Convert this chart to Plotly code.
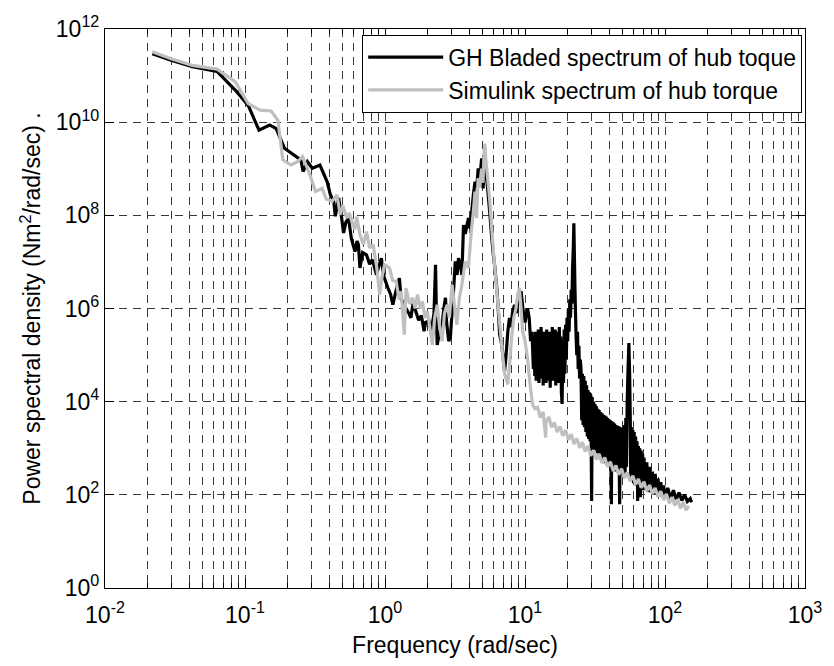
import numpy as np
import plotly.graph_objects as go

# ---- data (log10 of frequency [rad/s], log10 of PSD) ----
gh_log_freq = [
    -1.662, -1.528, -1.376, -1.20, -1.07, -0.977, -0.90, -0.824, -0.777, -0.718,
    -0.601, -0.585, -0.554, -0.519, -0.465, -0.413, -0.39, -0.366, -0.355, -0.331,
    -0.31, -0.296, -0.28, -0.261, -0.24, -0.214, -0.200, -0.190, -0.179, -0.16,
    -0.132, -0.11, -0.09, -0.061, -0.045, -0.026, -0.01, 0.021, 0.04, 0.056,
    0.08, 0.103, 0.115, 0.127, 0.15, 0.17, 0.185, 0.20, 0.22, 0.24,
    0.26, 0.279, 0.29, 0.314, 0.33, 0.35, 0.361, 0.367, 0.373, 0.39,
    0.408, 0.42, 0.432, 0.44, 0.455, 0.467, 0.479, 0.49, 0.502, 0.515,
    0.525, 0.54, 0.549, 0.561, 0.573, 0.596, 0.608, 0.62, 0.631, 0.643,
    0.655, 0.666, 0.678, 0.690, 0.701, 0.707, 0.713, 0.72, 0.737, 0.75,
    0.76, 0.772, 0.784, 0.80, 0.807, 0.819, 0.835, 0.854, 0.865, 0.877,
    0.889, 0.90, 0.91, 0.925, 0.94, 0.95, 0.972, 0.985, 1.00, 1.018,
    1.030, 1.04, 1.05,
    1.060, 1.065, 1.070, 1.075, 1.080, 1.085, 1.090, 1.095, 1.100, 1.105,
    1.110, 1.115, 1.120, 1.125, 1.130, 1.135, 1.140, 1.145, 1.150, 1.155,
    1.160, 1.165, 1.170, 1.175, 1.180, 1.185, 1.190, 1.195, 1.200, 1.205,
    1.210, 1.215, 1.220, 1.225, 1.230, 1.235, 1.240, 1.245, 1.250, 1.255,
    1.260, 1.265, 1.270, 1.275, 1.280, 1.285, 1.290, 1.295,
    1.300, 1.305, 1.310, 1.315, 1.320, 1.325, 1.330, 1.335, 1.340, 1.345,
    1.349, 1.353, 1.357, 1.360, 1.365, 1.370, 1.375, 1.380, 1.385, 1.390, 1.395,
    1.400, 1.405, 1.410, 1.415, 1.420, 1.425, 1.430, 1.435, 1.440, 1.445,
    1.450, 1.455, 1.460, 1.465, 1.470, 1.476, 1.480, 1.485, 1.490, 1.495,
    1.500, 1.505, 1.510, 1.515, 1.520, 1.525, 1.530, 1.535, 1.540, 1.545,
    1.550, 1.555, 1.560, 1.565, 1.570, 1.575, 1.580, 1.585, 1.590, 1.595,
    1.600, 1.605, 1.610, 1.617, 1.620, 1.625, 1.630, 1.635, 1.640, 1.645,
    1.650, 1.655, 1.660, 1.665, 1.670, 1.676, 1.680, 1.685, 1.690, 1.695,
    1.700, 1.705, 1.710, 1.715, 1.720, 1.725, 1.730, 1.735, 1.742, 1.748,
    1.752, 1.755, 1.760, 1.765, 1.770, 1.775, 1.780, 1.785, 1.790, 1.795,
    1.800, 1.805, 1.810, 1.815, 1.820, 1.825, 1.830, 1.835, 1.840, 1.845,
    1.850, 1.860, 1.870, 1.880, 1.890, 1.900, 1.910, 1.920, 1.930, 1.940,
    1.950, 1.960, 1.970, 1.980, 1.990, 2.000, 2.020, 2.040, 2.060, 2.080,
    2.100, 2.120, 2.140, 2.160, 2.180, 2.190,
]
gh_log_psd = [
    11.47, 11.33, 11.19, 11.09, 10.69, 10.36, 9.83, 9.94, 9.86, 9.44,
    9.19, 8.94, 9.15, 9.01, 9.08, 8.72, 8.44, 8.30, 7.98, 8.37,
    7.95, 7.62, 7.85, 7.94, 7.50, 7.22, 7.45, 7.37, 6.87, 7.20,
    7.15, 6.95, 7.05, 6.72, 6.90, 7.08, 6.70, 6.44, 6.30, 6.08,
    6.40, 6.65, 6.20, 6.15, 6.00, 5.90, 5.80, 6.10, 5.94, 5.75,
    5.85, 5.51, 5.70, 5.73, 5.50, 5.90, 6.94, 5.90, 5.22, 5.50,
    5.65, 6.00, 6.23, 5.70, 5.30, 5.37, 5.94, 6.40, 7.01, 6.72,
    7.08, 6.90, 6.72, 7.79, 7.60, 7.94, 7.72, 8.10, 8.44, 8.72,
    8.60, 9.01, 8.80, 9.22, 8.58, 9.00, 9.30, 9.00, 8.44, 8.00,
    7.60, 7.20, 6.90, 6.40, 6.08, 5.44, 5.20, 4.65, 5.00, 5.50,
    5.80, 5.60, 5.90, 6.08, 5.90, 6.20, 6.37, 6.00, 5.70, 6.00,
    5.80, 5.30, 5.50,
    4.70, 5.35, 4.55, 5.50, 4.45, 5.40, 4.60, 5.55, 4.40, 5.45,
    4.65, 5.60, 4.50, 5.40, 4.35, 5.50, 4.55, 5.45, 4.40, 5.55,
    4.60, 5.35, 4.45, 5.50, 4.30, 5.45, 4.55, 5.60, 4.45, 5.40,
    4.60, 5.55, 4.35, 5.45, 4.50, 5.50, 4.40, 5.60, 4.55, 5.40,
    4.20, 3.95, 5.30, 4.40, 5.55, 4.60, 5.65, 4.90,
    5.80, 5.30, 6.00, 5.50, 6.20, 5.80, 6.40, 6.10, 6.90, 7.30,
    7.83, 7.10, 6.40, 6.00, 5.40, 5.00, 5.50, 4.70, 5.20, 4.50, 4.90,
    4.70, 3.60, 4.60, 3.50, 4.55, 3.45, 4.45, 3.35, 4.35, 3.25,
    4.25, 3.20, 4.20, 3.15, 4.15, 1.87, 4.10, 3.05, 4.00, 2.95,
    3.95, 2.95, 3.90, 2.90, 3.85, 2.85, 3.82, 2.80, 3.78, 2.75,
    3.75, 2.75, 3.72, 2.70, 3.70, 2.68, 3.68, 2.65, 3.65, 2.62,
    3.62, 2.60, 3.60, 1.80, 3.58, 2.55, 3.56, 2.55, 3.53, 2.50,
    3.50, 2.50, 3.48, 2.48, 3.47, 1.80, 3.45, 2.45, 3.45, 2.42,
    3.45, 2.40, 3.50, 2.40, 3.65, 2.60, 4.00, 4.60, 5.26, 4.50,
    3.60, 2.35, 3.45, 2.30, 3.40, 2.25, 3.35, 2.25, 3.25, 2.20,
    3.15, 1.87, 3.05, 2.15, 3.00, 1.95, 2.95, 2.12, 2.88, 2.10,
    2.80, 2.10, 2.70, 2.06, 2.60, 2.05, 2.50, 2.02, 2.45, 2.00,
    2.35, 1.98, 2.27, 1.96, 2.20, 1.95, 2.15, 1.92, 2.10, 1.90,
    2.05, 1.88, 2.00, 1.86, 1.92, 1.84,
]

sim_log_freq = [
    -1.662, -1.528, -1.376, -1.20, -1.07, -0.977, -0.894, -0.813, -0.765, -0.73,
    -0.672, -0.625, -0.589, -0.54, -0.496, -0.449, -0.42, -0.378, -0.343, -0.32,
    -0.30, -0.273, -0.255, -0.237, -0.215, -0.202, -0.18, -0.155, -0.132, -0.11,
    -0.085, -0.06, -0.038, -0.02, -0.003, 0.032, 0.055, 0.080, 0.100, 0.115,
    0.138, 0.150, 0.175, 0.197, 0.215, 0.232, 0.25, 0.268, 0.285, 0.303,
    0.32, 0.338, 0.355, 0.373, 0.39, 0.408, 0.425, 0.444, 0.46, 0.479,
    0.495, 0.514, 0.53, 0.549, 0.573, 0.596, 0.615, 0.631, 0.643, 0.654,
    0.665, 0.675, 0.69, 0.70, 0.707, 0.713, 0.72, 0.73, 0.749, 0.765,
    0.784, 0.795, 0.807, 0.825, 0.84, 0.855, 0.877, 0.89, 0.905, 0.92,
    0.935, 0.948, 0.960, 0.972, 0.983, 1.00, 1.018, 1.035, 1.054, 1.07,
    1.09, 1.11, 1.13, 1.148, 1.15, 1.17, 1.19, 1.21, 1.23, 1.25,
    1.27, 1.29, 1.31, 1.33, 1.35, 1.37, 1.39, 1.41, 1.43, 1.45,
    1.47, 1.49, 1.51, 1.53, 1.55, 1.57, 1.59, 1.61, 1.63, 1.65,
    1.67, 1.69, 1.71, 1.73, 1.75, 1.77, 1.79, 1.81, 1.83, 1.85,
    1.87, 1.89, 1.91, 1.93, 1.95, 1.97, 1.99, 2.01, 2.03, 2.05,
    2.07, 2.09, 2.11, 2.13, 2.15, 2.17,
]
sim_log_psd = [
    11.51, 11.36, 11.22, 11.14, 10.87, 10.40, 10.26, 10.24, 10.04, 9.19,
    9.08, 9.15, 9.26, 8.90, 8.51, 8.58, 8.35, 8.30, 8.44, 8.01,
    8.20, 7.94, 8.05, 7.87, 7.70, 7.97, 7.60, 7.37, 7.65, 7.30,
    7.37, 6.90, 6.30, 6.70, 6.94, 6.87, 6.60, 6.58, 6.20, 6.37,
    5.44, 6.44, 6.10, 6.23, 6.00, 6.30, 6.00, 6.15, 5.80, 5.94,
    5.60, 5.22, 5.80, 6.08, 5.60, 5.30, 5.90, 6.08, 5.80, 6.51,
    6.10, 5.65, 6.20, 6.51, 7.01, 6.87, 7.60, 8.08, 8.51, 7.94,
    8.80, 8.60, 9.00, 8.70, 9.30, 9.54, 9.20, 8.90, 8.30, 7.60,
    6.87, 6.50, 6.08, 5.50, 5.00, 4.60, 4.37, 4.80, 5.40, 5.80,
    6.00, 6.30, 6.44, 6.00, 5.51, 5.30, 4.94, 4.40, 3.94, 3.85,
    3.88, 3.66, 3.78, 3.23, 3.56, 3.67, 3.45, 3.55, 3.35, 3.47,
    3.27, 3.39, 3.18, 3.30, 3.09, 3.21, 3.01, 3.13, 2.93, 3.05,
    2.84, 2.96, 2.76, 2.88, 2.68, 2.80, 2.60, 2.71, 2.51, 2.63,
    2.43, 2.56, 2.36, 2.48, 2.29, 2.41, 2.22, 2.34, 2.15, 2.28,
    2.08, 2.21, 2.02, 2.15, 1.95, 2.08, 1.89, 2.02, 1.82, 1.95,
    1.77, 1.90, 1.71, 1.85, 1.67, 1.76,
]

gh_freq = np.power(10.0, gh_log_freq)
gh_psd = np.power(10.0, gh_log_psd)
sim_freq = np.power(10.0, sim_log_freq)
sim_psd = np.power(10.0, sim_log_psd)

x_major_exp = [-2, -1, 0, 1, 2, 3]
y_major_exp = [0, 2, 4, 6, 8, 10, 12]
series_names = ["GH Bladed spectrum of hub toque", "Simulink spectrum of hub torque"]

FONT = "Liberation Sans, Arial, sans-serif"
FS = 23
GRID = "#3a3a3a"
DASH = "8px,6px"

fig = go.Figure()
fig.add_trace(go.Scatter(x=gh_freq, y=gh_psd, mode="lines", name=series_names[0],
                         line=dict(color="black", width=3.2, simplify=False)))
fig.add_trace(go.Scatter(x=sim_freq, y=sim_psd, mode="lines", name=series_names[1],
                         line=dict(color="#bfbfbf", width=3.2, simplify=False)))

x_minor = [m * 10.0 ** e for e in x_major_exp[:-1] for m in range(2, 10)]

fig.update_layout(
    width=834, height=666,
    margin=dict(l=105, r=20, t=29, b=75),
    paper_bgcolor="white", plot_bgcolor="white",
    font=dict(family=FONT, size=FS, color="black"),
    showlegend=True,
    legend=dict(x=0.996, xanchor="right", y=0.99, yanchor="top",
                bgcolor="white", bordercolor="black", borderwidth=1,
                font=dict(size=FS), itemwidth=75, tracegroupgap=0),
    xaxis=dict(
        type="log", range=[-2, 3],
        tickmode="array",
        tickvals=[10.0 ** e for e in x_major_exp],
        ticktext=[f"10<sup>{e}</sup>" for e in x_major_exp],
        ticks="inside", ticklen=9, tickcolor="black",
        ticklabelstandoff=6,
        showline=True, linecolor="black", linewidth=1.2, mirror="allticks",
        showgrid=True, gridcolor=GRID, griddash=DASH, gridwidth=1,
        zeroline=False,
        minor=dict(tickmode="array", tickvals=x_minor, ticks="inside", ticklen=5,
                   tickcolor="black", showgrid=True, gridcolor=GRID,
                   griddash=DASH, gridwidth=1),
        title=dict(text="Frequency (rad/sec)", font=dict(size=FS), standoff=10),
        tickfont=dict(size=FS),
    ),
    yaxis=dict(
        type="log", range=[0, 12],
        tickmode="array",
        tickvals=[10.0 ** e for e in y_major_exp],
        ticktext=[f"10<sup>{e}</sup>" for e in y_major_exp],
        ticks="inside", ticklen=9, tickcolor="black",
        showline=True, linecolor="black", linewidth=1.2, mirror="allticks",
        showgrid=True, gridcolor=GRID, griddash=DASH, gridwidth=1,
        zeroline=False,
        title=dict(text="Power spectral density (Nm<sup>2</sup>/rad/sec) .",
                   font=dict(size=FS), standoff=8),
        tickfont=dict(size=FS),
    ),
)

fig.write_html("out.html")
